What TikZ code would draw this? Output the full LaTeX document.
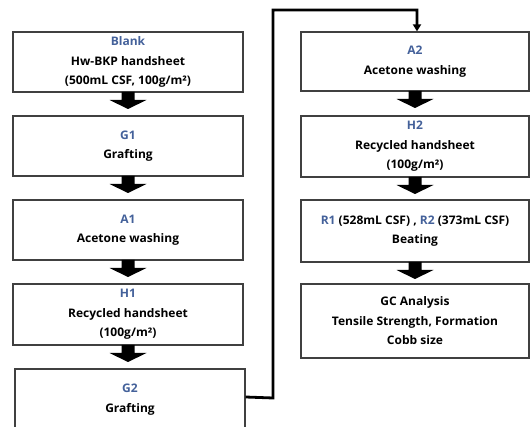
\documentclass[tikz,border=0pt]{standalone}
\usepackage{fontspec}
\setmainfont{Open Sans}[FakeStretch=1.02]
\usetikzlibrary{arrows.meta}
\definecolor{ttl}{HTML}{44619A}
\definecolor{frame}{HTML}{404040}
\tikzset{
  box/.style={draw=frame, line width=1.2pt, minimum width=230pt, align=center,
    font=\fontsize{11.8}{19.5}\selectfont\bfseries, inner sep=0pt},
  blockarrow/.style={fill=black, draw=none},
  link/.style={line width=2.8pt, -{Triangle[length=7pt,width=8pt]}}
}
\newcommand{\blkarrow}[2]{% x, ytop (px, downward)
  \fill[blockarrow] (#1-6.5,-#2) -- (#1+6.5,-#2) -- (#1+6.5,-#2-8) -- (#1+18.5,-#2-8)
    -- (#1,-#2-17) -- (#1-18.5,-#2-8) -- (#1-6.5,-#2-8) -- cycle;}
\begin{document}
\begin{tikzpicture}[x=1pt,y=1pt]
\useasboundingbox (0,0) rectangle (530,-427);
\begin{scope}
\clip (0,0) rectangle (530,-427);
% left column
\node[box, minimum height=60pt] (blank) at (128,-62) {\textcolor{ttl}{Blank}\\Hw-BKP handsheet\\(500mL CSF, 100g/m²)};
\node[box, minimum height=60pt] (g1) at (128,-146) {\textcolor{ttl}{G1}\\Grafting};
\node[box, minimum height=60pt] (a1) at (128,-230) {\textcolor{ttl}{A1}\\Acetone washing};
\node[box, minimum height=61pt] (h1) at (128,-314.5) {\textcolor{ttl}{H1}\\Recycled handsheet\\(100g/m²)};
\node[box, minimum height=61pt] (g2) at (130,-399.5) {\textcolor{ttl}{G2}\\Grafting};
% right column
\node[box, minimum width=228pt, minimum height=59pt] (a2) at (415,-61.5) {\textcolor{ttl}{A2}\\Acetone washing};
\node[box, minimum width=228pt, minimum height=61pt] (h2) at (415,-146.5) {\textcolor{ttl}{H2}\\Recycled handsheet\\(100g/m²)};
\node[box, minimum width=228pt, minimum height=62pt] (r) at (415,-231) {\textcolor{ttl}{R1} (528mL CSF) , \textcolor{ttl}{R2} (373mL CSF)\\Beating};
\node[box, minimum width=228pt, minimum height=74pt] (gc) at (415,-321) {GC Analysis\\Tensile Strength, Formation\\Cobb size};
\end{scope}
% block arrows
\blkarrow{128}{92}
\blkarrow{128}{176}
\blkarrow{128}{260}
\blkarrow{128}{345}
\blkarrow{415}{91}
\blkarrow{415}{177}
\blkarrow{415}{262}
% connector
\coordinate (c1) at (273,-398);
\coordinate (c2) at (273,-10);
\coordinate (c3) at (417,-10);
\draw[link] ([yshift=1pt]g2.east |- c1) -- (c1) -- (c2) -- (c3) -- (c3 |- a2.north);
\end{tikzpicture}
\end{document}
